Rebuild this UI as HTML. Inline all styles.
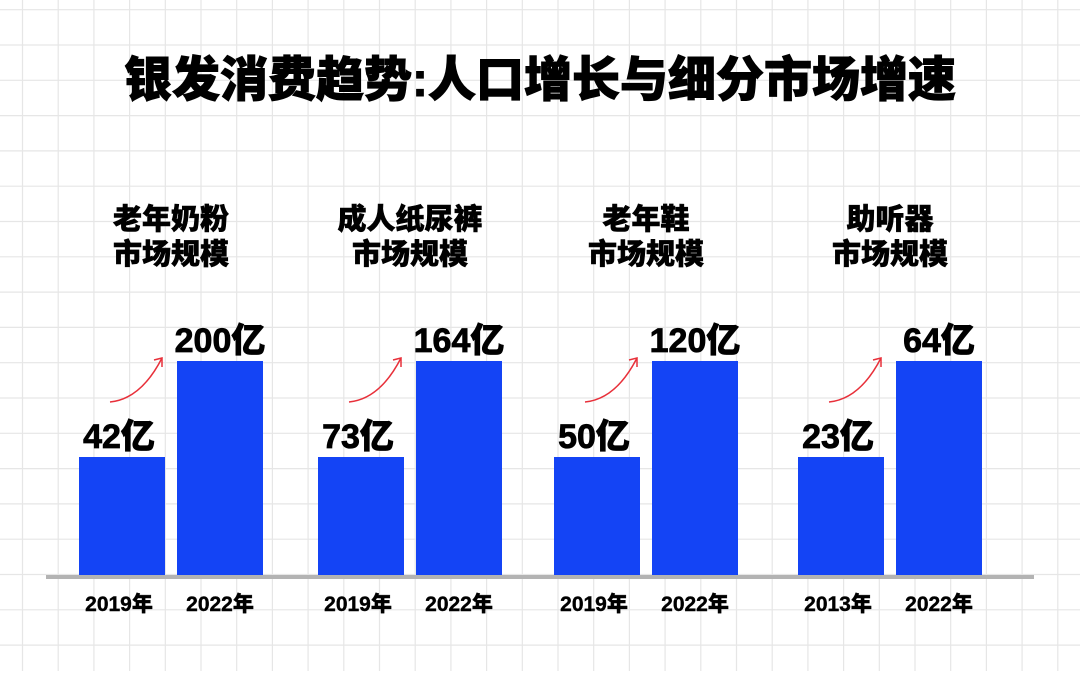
<!DOCTYPE html>
<html><head><meta charset="utf-8"><style>
body{margin:0;width:1080px;height:671px;overflow:hidden;background:#fff;font-family:"Liberation Sans","Noto Sans CJK SC",sans-serif}
svg text{font-family:"Liberation Sans","Noto Sans CJK SC",sans-serif;font-weight:900;fill:#000}
</style></head><body>
<svg id="chart" width="1080" height="671" viewBox="0 0 1080 671">
<g id="grid"></g>
<text x="540" y="96" text-anchor="middle" font-size="48" stroke="#000" stroke-width="1">银发消费趋势:人口增长与细分市场增速</text>
<g id="marks"></g>
<rect x="46" y="575" width="988" height="4" fill="#b3b3b3"/>
</svg>
<script>
const categories1 = ["老年奶粉","成人纸尿裤","老年鞋","助听器"];
const categories2 = ["市场规模","市场规模","市场规模","市场规模"];
const startYears = ["2019年","2019年","2019年","2013年"];
const endYears = ["2022年","2022年","2022年","2022年"];
const startValues = [42,73,50,23];
const endValues = [200,164,120,64];

const NS="http://www.w3.org/2000/svg";
function mk(tag,attrs,parent){const e=document.createElementNS(NS,tag);for(const k in attrs)e.setAttribute(k,attrs[k]);parent.appendChild(e);return e;}
const grid=document.getElementById('grid');
for(let x=22.5;x<1080;x+=35.7){const l=mk('line',{x1:x,y1:0,x2:x,y2:671,stroke:'#e6e6e6','stroke-width':1.2},grid);}
for(let y=398-35.3*11;y<671;y+=35.3){const l=mk('line',{x1:0,y1:y,x2:1080,y2:y,stroke:'#e6e6e6','stroke-width':1.2},grid);}

const baseY=576, fullH=215, minH=119;
const groupX=[79,318,554,798], barW=86, gap=12;
function barH(v,max){return Math.max(minH, fullH*v/max);}
const marks=document.getElementById('marks');
categories1.forEach((c,i)=>{
  const g=mk('g',{},marks);
  
  
  const max=Math.max(startValues[i],endValues[i]);
  const x1=groupX[i], x2=x1+barW+gap, cx=(x1+x2+barW)/2;
  const t1=mk('text',{x:cx,y:229,'text-anchor':'middle','font-size':29,stroke:'#000','stroke-width':0.6},g);t1.textContent=c;
  
  const t2=mk('text',{x:cx,y:264,'text-anchor':'middle','font-size':29,stroke:'#000','stroke-width':0.6},g);t2.textContent=categories2[i];
  
  const h1=barH(startValues[i],max), h2=barH(endValues[i],max);
  const b1=mk('rect',{x:x1,y:baseY-h1,width:barW,height:h1,fill:'#1444f5'},g);
  
  const b2=mk('rect',{x:x2,y:baseY-h2,width:barW,height:h2,fill:'#1444f5'},g);
  
  const v1=mk('text',{x:x1+barW/2-3,y:baseY-h1-9,'text-anchor':'middle','font-size':34,stroke:'#000','stroke-width':0.8},g);v1.textContent=startValues[i]+'亿';
  
  const v2=mk('text',{x:x2+barW/2,y:baseY-h2-9,'text-anchor':'middle','font-size':34,stroke:'#000','stroke-width':0.8},g);v2.textContent=endValues[i]+'亿';
  
  const y1=mk('text',{x:x1+barW/2-3,y:611,'text-anchor':'middle','font-size':21,stroke:'#000','stroke-width':0.4},g);y1.textContent=startYears[i];
  
  const y2=mk('text',{x:x2+barW/2,y:611,'text-anchor':'middle','font-size':21,stroke:'#000','stroke-width':0.4},g);y2.textContent=endYears[i];
  
  const ay=baseY-h1-55, by=baseY-h2-3;
  const ar=mk('path',{d:`M${x1+31},${ay} Q${x1+62},${ay-3} ${x1+83},${by}`,fill:'none',stroke:'#e8303a','stroke-width':1.5},g);
  
  const ah=mk('path',{d:`M${x1+75},${by+2} L${x1+83},${by} L${x1+83},${by+9}`,fill:'none',stroke:'#e8303a','stroke-width':1.5},g);
  
});
</script>
</body></html>
